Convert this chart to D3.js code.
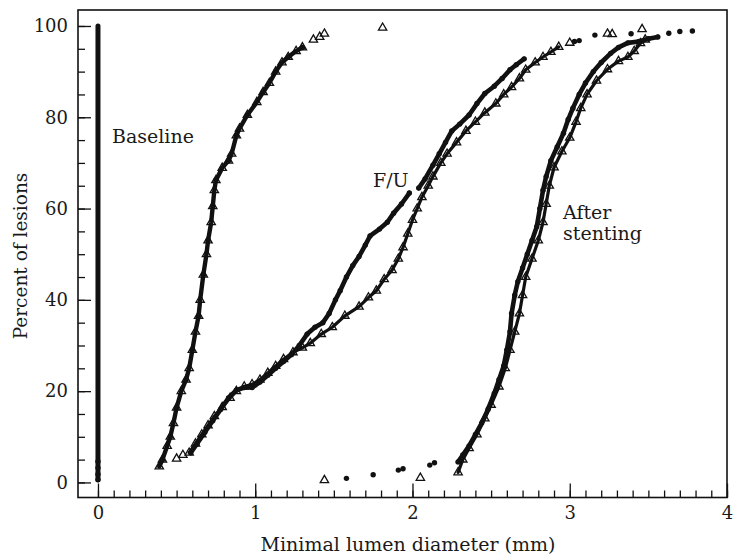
<!DOCTYPE html>
<html>
<head>
<meta charset="utf-8">
<script src="https://cdn.jsdelivr.net/npm/d3@7"></script>
<style>
  html, body { margin: 0; padding: 0; background: #fff; }
  svg text { font-family: "DejaVu Serif", "Liberation Serif", serif; fill: #1a1a1a; }
</style>
</head>
<body>
<svg id="chart" width="734" height="554"></svg>
<script>
// Cumulative distributions of minimal lumen diameter (mm) vs percent of lesions.
// Each point is [diameter mm, cumulative percent].

// Baseline, occluded group: every lesion at 0 mm
const baselineZero = [[0, 0.6], [0, 1.8], [0, 3.2], [0, 4.6], [0, 100]];

// Baseline, non-occluded group
const baselineCurve = [
  [0.39, 3.5], [0.41, 5], [0.44, 8], [0.46, 10], [0.48, 13], [0.50, 16.4], [0.53, 20],
  [0.56, 22.5], [0.58, 25], [0.60, 29], [0.62, 33], [0.64, 36.5], [0.65, 40], [0.67, 45.5],
  [0.69, 50], [0.70, 53], [0.72, 57], [0.73, 60.5], [0.74, 64], [0.75, 66.2], [0.79, 68.9],
  [0.83, 70.5], [0.85, 72], [0.88, 76], [0.90, 77.5], [0.95, 80.5], [1.01, 83.3], [1.05, 85.5],
  [1.09, 87.5], [1.13, 90], [1.17, 92], [1.21, 93.2], [1.26, 94.5], [1.30, 95.3]
];
const baselineDots = [[1.37, 97], [1.41, 97.6], [1.44, 98.3], [1.81, 99.6]];

// Follow-up, filled circles
const fuCircleCurve = [
  [0.59, 6.5], [0.63, 8.5], [0.68, 11], [0.73, 13.5], [0.78, 16], [0.83, 18.5], [0.88, 20.2],
  [0.93, 20.8], [0.98, 20.8], [1.03, 22], [1.08, 23.5], [1.13, 25], [1.18, 26.5], [1.23, 28],
  [1.28, 30], [1.33, 32.5], [1.38, 34], [1.43, 35], [1.47, 37], [1.51, 40], [1.54, 42],
  [1.58, 45], [1.62, 47.5], [1.66, 49.5], [1.70, 52], [1.73, 54], [1.79, 55.5], [1.84, 57],
  [1.88, 59], [1.93, 61], [1.98, 63.4]
];
const fuCircleCurve2 = [
  [2.04, 64.5], [2.08, 66.5], [2.13, 69.5], [2.17, 72], [2.21, 74.5], [2.25, 77], [2.30, 78.5],
  [2.36, 80.5], [2.41, 83], [2.46, 85.2], [2.52, 86.8], [2.57, 88.5], [2.62, 90.4], [2.66, 91.5],
  [2.71, 92.8]
];
const fuCircleDots = [[3.03, 96.6], [3.06, 96.8], [3.16, 98.0], [3.39, 98.3]];

// Follow-up, open triangles
const fuTriangleCurve = [
  [0.58, 6.5], [0.62, 8.5], [0.66, 10.5], [0.70, 12.5], [0.74, 14.5], [0.79, 16.5], [0.84, 18.5],
  [0.88, 20], [0.93, 21], [0.98, 21.5], [1.03, 22.5], [1.08, 24], [1.13, 25.5], [1.18, 27],
  [1.24, 28.5], [1.30, 29.5], [1.35, 30.5], [1.42, 32.5], [1.49, 34], [1.57, 36.5], [1.66, 38.5],
  [1.72, 40.5], [1.77, 42], [1.82, 44.5], [1.87, 46.5], [1.91, 49], [1.94, 51.5], [1.97, 54.5],
  [2.00, 57.5], [2.03, 60], [2.06, 62.5], [2.10, 65], [2.13, 67], [2.18, 70], [2.22, 72],
  [2.28, 74.5], [2.34, 77], [2.40, 79], [2.46, 81], [2.53, 83], [2.58, 85], [2.63, 86.6],
  [2.68, 88.5], [2.72, 90.4], [2.78, 92], [2.83, 93.2], [2.88, 94.3], [2.93, 95.4]
];
const fuTriangleDots = [[0.50, 5.2], [0.54, 6], [3.00, 96.3], [3.24, 98.3], [3.27, 98.2], [3.46, 99.3]];

// After stenting, filled circles
const stentCircleCurve = [
  [2.29, 4.5], [2.32, 6], [2.36, 8], [2.40, 10.5], [2.44, 13], [2.48, 16], [2.52, 19.5],
  [2.55, 22.5], [2.58, 25.5], [2.60, 29], [2.62, 33], [2.63, 37], [2.65, 41], [2.67, 44],
  [2.70, 47], [2.73, 50], [2.76, 53], [2.79, 56], [2.81, 60], [2.83, 64], [2.85, 67],
  [2.88, 70.5], [2.92, 73.5], [2.96, 76.5], [2.99, 79.5], [3.02, 82], [3.06, 85], [3.10, 87.5],
  [3.15, 90], [3.20, 92], [3.26, 94], [3.31, 95.3], [3.37, 96.3], [3.44, 96.6], [3.50, 97.2],
  [3.56, 97.6]
];
const stentCircleDots = [
  [1.58, 0.9], [1.75, 1.7], [1.91, 2.7], [1.94, 3], [2.11, 3.8], [2.14, 4.3],
  [3.63, 98.4], [3.70, 98.8], [3.78, 98.9]
];

// After stenting, open triangles
const stentTriangleCurve = [
  [2.29, 2.2], [2.32, 5], [2.36, 7.5], [2.41, 10.5], [2.46, 14], [2.50, 17], [2.55, 21],
  [2.59, 25], [2.62, 29], [2.65, 33], [2.68, 37], [2.70, 41], [2.72, 45], [2.76, 49],
  [2.80, 53], [2.83, 57], [2.85, 61], [2.87, 65], [2.90, 69], [2.95, 72.5], [3.00, 75.5],
  [3.04, 79], [3.07, 82], [3.11, 85], [3.17, 88], [3.24, 90.5], [3.31, 92.3], [3.37, 93.2],
  [3.41, 94.5], [3.45, 96.2], [3.48, 97]
];
const stentTriangleDots = [[1.44, 0.5], [2.05, 1.0]];

// Axis ticks
const xMajorTicks = [0, 1, 2, 3, 4];
const xMinorTicks = d3.range(0, 41).map(i => i / 10);
const yMajorTicks = [0, 20, 40, 60, 80, 100];
const yMinorTicks = d3.range(0, 21).map(i => i * 5);
const xDomain = [-0.127, 4];
const yDomain = [-3.3, 103.5];

const svg = d3.select("#chart");
const plot = { left: 78, right: 727, top: 10, bottom: 497.5 };

const x = d3.scaleLinear().domain(xDomain).range([plot.left, plot.right]);
const y = d3.scaleLinear().domain(yDomain).range([plot.bottom, plot.top]);

// Frame
svg.append("rect")
  .attr("x", plot.left).attr("y", plot.top)
  .attr("width", plot.right - plot.left).attr("height", plot.bottom - plot.top)
  .attr("fill", "none").attr("stroke", "#111").attr("stroke-width", 1.6);

// Axes with inward ticks
function styleAxis(g) {
  g.select(".domain").remove();
  g.selectAll(".tick line").attr("stroke", "#111").attr("stroke-width", 1.3);
  g.selectAll(".tick text").attr("font-size", 18).attr("fill", "#1a1a1a")
    .attr("font-family", "DejaVu Serif, serif");
}

svg.append("g").attr("transform", `translate(0,${plot.bottom})`)
  .call(d3.axisBottom(x).tickValues(xMinorTicks).tickSize(-7).tickFormat(""))
  .call(styleAxis);
svg.append("g").attr("transform", `translate(0,${plot.bottom})`)
  .call(d3.axisBottom(x).tickValues(xMajorTicks).tickSize(-14).tickPadding(9).tickFormat(d3.format("d")))
  .call(styleAxis);
svg.append("g").attr("transform", `translate(${plot.left},0)`)
  .call(d3.axisLeft(y).tickValues(yMinorTicks).tickSize(-7).tickFormat(""))
  .call(styleAxis);
svg.append("g").attr("transform", `translate(${plot.left},0)`)
  .call(d3.axisLeft(y).tickValues(yMajorTicks).tickSize(-13).tickPadding(10).tickFormat(d3.format("d")))
  .call(styleAxis);

// Axis titles
svg.append("text")
  .attr("x", 408).attr("y", 551)
  .attr("text-anchor", "middle").attr("font-size", 19)
  .text("Minimal lumen diameter (mm)");
svg.append("text")
  .attr("transform", "translate(27,256) rotate(-90)")
  .attr("text-anchor", "middle").attr("font-size", 18.5)
  .text("Percent of lesions");

// Marks
const marks = svg.append("g");
const line = d3.line().x(d => x(d[0])).y(d => y(d[1]));
const triangle = d3.symbol().type(d3.symbolTriangle).size(30);

function drawLine(data, width) {
  marks.append("path").datum(data)
    .attr("d", line)
    .attr("fill", "none").attr("stroke", "#111")
    .attr("stroke-width", width)
    .attr("stroke-linejoin", "round").attr("stroke-linecap", "round");
}
function drawCircles(data) {
  marks.append("g").selectAll("circle").data(data).join("circle")
    .attr("cx", d => x(d[0])).attr("cy", d => y(d[1]))
    .attr("r", 2.7).attr("fill", "#111");
}
function drawTriangles(data) {
  marks.append("g").selectAll("path").data(data).join("path")
    .attr("transform", d => `translate(${x(d[0])},${y(d[1])})`)
    .attr("d", triangle)
    .attr("fill", "none").attr("stroke", "#111").attr("stroke-width", 1.3);
}

// Baseline
drawLine(baselineZero, 5);
drawCircles(baselineZero.slice(0, 4));
drawLine(baselineCurve, 4.4);
drawTriangles(baselineCurve.concat(baselineDots));
drawCircles(baselineCurve.filter((d, i) => i % 2 === 1));

// Follow-up
drawLine(fuTriangleCurve, 3.2);
drawTriangles(fuTriangleCurve.concat(fuTriangleDots));
drawLine(fuCircleCurve, 4.6);
drawLine(fuCircleCurve2, 4.6);
drawCircles(fuCircleCurve.concat(fuCircleCurve2, fuCircleDots));

// After stenting
drawLine(stentTriangleCurve, 3.2);
drawTriangles(stentTriangleCurve.concat(stentTriangleDots));
drawLine(stentCircleCurve, 4.6);
drawCircles(stentCircleCurve.concat(stentCircleDots));

// Curve labels
const labels = svg.append("g").attr("font-size", 19);
labels.append("text").attr("x", 112).attr("y", 143).text("Baseline");
labels.append("text").attr("x", 373).attr("y", 187).text("F/U");
labels.append("text").attr("x", 563).attr("y", 219).text("After");
labels.append("text").attr("x", 563).attr("y", 240).text("stenting");
</script>
</body>
</html>
